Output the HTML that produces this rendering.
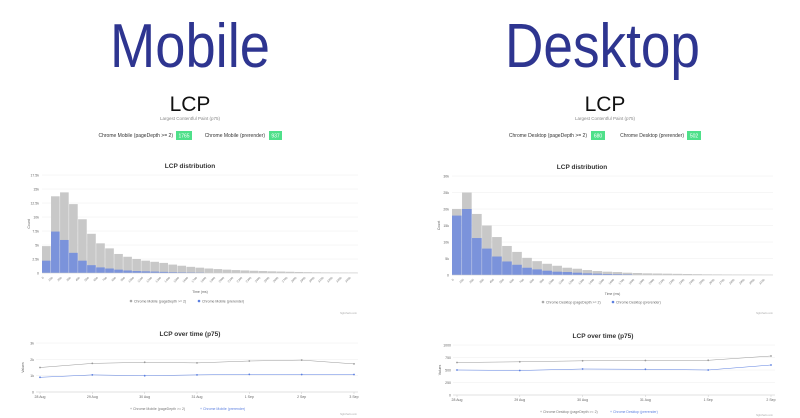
<!DOCTYPE html>
<html><head><meta charset="utf-8"><style>
html,body{margin:0;padding:0;background:#fff;width:800px;height:418px;overflow:hidden}
svg{display:block;font-family:"Liberation Sans",sans-serif}
</style></head><body>
<svg id="s" width="800" height="418" viewBox="0 0 800 418">
<text x="110" y="67" font-size="62" fill="#2e3590" textLength="160" lengthAdjust="spacingAndGlyphs">Mobile</text>
<text x="505" y="67" font-size="62" fill="#2e3590" textLength="195" lengthAdjust="spacingAndGlyphs">Desktop</text>

<text x="190" y="111" font-size="21" text-anchor="middle" fill="#111">LCP</text>
<text x="190" y="120" font-size="4.5" text-anchor="middle" fill="#888">Largest Contentful Paint (p75)</text>
<text x="173" y="137" font-size="5" text-anchor="end" fill="#333">Chrome Mobile (pageDepth &gt;= 2)</text>
<rect x="176" y="131" width="16" height="9" fill="#4fe08a"/><text x="184" y="137.5" font-size="5" text-anchor="middle" fill="#fff">1765</text>
<text x="265" y="137" font-size="5" text-anchor="end" fill="#333">Chrome Mobile (prerender)</text>
<rect x="269" y="131" width="13" height="9" fill="#4fe08a"/><text x="275.5" y="137.5" font-size="5" text-anchor="middle" fill="#fff">937</text>
<text x="190" y="168" font-size="6.5" font-weight="bold" text-anchor="middle" fill="#333">LCP distribution</text>

<text x="605" y="111" font-size="21" text-anchor="middle" fill="#111">LCP</text>
<text x="605" y="120" font-size="4.5" text-anchor="middle" fill="#888">Largest Contentful Paint (p75)</text>
<text x="587" y="137" font-size="5" text-anchor="end" fill="#333">Chrome Desktop (pageDepth &gt;= 2)</text>
<rect x="591" y="131" width="14" height="9" fill="#4fe08a"/><text x="598" y="137.5" font-size="5" text-anchor="middle" fill="#fff">680</text>
<text x="684" y="137" font-size="5" text-anchor="end" fill="#333">Chrome Desktop (prerender)</text>
<rect x="687" y="131" width="14" height="9" fill="#4fe08a"/><text x="694" y="137.5" font-size="5" text-anchor="middle" fill="#fff">502</text>
<text x="582" y="169" font-size="6.5" font-weight="bold" text-anchor="middle" fill="#333">LCP distribution</text>

<text x="190" y="336" font-size="6.5" font-weight="bold" text-anchor="middle" fill="#333">LCP over time (p75)</text>
<text x="603" y="338" font-size="6.5" font-weight="bold" text-anchor="middle" fill="#333">LCP over time (p75)</text>
<g id="g"></g>
</svg>
<script>
var g=document.getElementById('g'),h='';
function r(x,y,w,hh,f){h+='<rect x="'+x+'" y="'+y+'" width="'+w+'" height="'+hh+'" fill="'+f+'"/>';}
function t(x,y,s,txt,a,f,rot){h+='<text x="'+x+'" y="'+y+'" font-size="'+s+'" text-anchor="'+(a||'start')+'" fill="'+(f||'#666')+'"'+(rot?' transform="rotate('+rot+' '+x+' '+y+')"':'')+'>'+txt+'</text>';}
function ln(x1,y1,x2,y2,c,w){h+='<line x1="'+x1+'" y1="'+y1+'" x2="'+x2+'" y2="'+y2+'" stroke="'+c+'" stroke-width="'+(w||0.5)+'"/>';}
function hist(x0,x1,yt,yb,max,ticks,gray,blue,n,lab){
 for(var i=0;i<=ticks.length-1;i++){var y=yb-(yb-yt)*i/(ticks.length-1);ln(x0,y,x1,y,'#eee');t(x0-3,y+1.5,3.5,ticks[i],'end','#666');}
 var bw=(x1-x0)/n;
 for(i=0;i<n;i++){var gv=gray[i]||gray[gray.length-1]*Math.pow(0.85,i-gray.length+1),bv=blue[i]||0;
  var gh=(yb-yt)*gv/max,bh=(yb-yt)*bv/max;
  r((x0+i*bw).toFixed(2),(yb-gh).toFixed(2),(bw-0.4).toFixed(2),gh.toFixed(2),'#c8c8c8');
  if(bh>0)r((x0+i*bw).toFixed(2),(yb-bh).toFixed(2),(bw-0.4).toFixed(2),bh.toFixed(2),'#7b93db');
  if(i%1==0)t(x0+i*bw+2,yb+5,3,lab*i,'end','#777',-45);}
 ln(x0,yb,x1,yb,'#ccc');
 t(x0-12,(yt+yb)/2,3.5,'Count','middle','#666',-90);
 t((x0+x1)/2,yb+20,3.5,'Time (ms)','middle','#666');
}
hist(42,358,175,273,17.5,['0','2.5k','5k','7.5k','10k','12.5k','15k','17.5k'],
 [4.8,13.7,14.4,12.3,9.6,7.0,5.3,4.4,3.4,2.9,2.5,2.2,2.0,1.8,1.5,1.3,1.1,0.95,0.8,0.7,0.6,0.52,0.46,0.4,0.35,0.3,0.26,0.22,0.18,0.15,0.12,0.1,0.08,0.07,0.06],
 [2.2,7.4,5.9,3.6,2.2,1.4,1.0,0.8,0.6,0.45,0.35,0.3,0.25,0.2,0.15,0.12,0.1,0.08],35,100);
hist(452,773,176,275,30,['0','5k','10k','15k','20k','25k','30k'],
 [20,25,18.5,15,11.5,8.8,7,5.2,4.2,3.4,2.8,2.2,1.9,1.5,1.2,1.0,0.9,0.7,0.6,0.5,0.45,0.4,0.35,0.3,0.25,0.2,0.18,0.15,0.12,0.1,0.08,0.06],
 [18,20,11.2,8,5.6,4.1,3.1,2.2,1.7,1.3,1.0,0.9,0.7,0.5,0.4,0.3,0.25,0.2],32,100);
// legends
h+='<circle cx="131" cy="301" r="1.3" fill="#aaa"/>';t(134,302.5,3.5,'Chrome Mobile (pageDepth &gt;= 2)');
h+='<circle cx="199" cy="301" r="1.3" fill="#5b7fe0"/>';t(202,302.5,3.5,'Chrome Mobile (prerender)');
h+='<circle cx="543" cy="302" r="1.3" fill="#aaa"/>';t(546,303.5,3.5,'Chrome Desktop (pageDepth &gt;= 2)');
h+='<circle cx="613" cy="302" r="1.3" fill="#5b7fe0"/>';t(616,303.5,3.5,'Chrome Desktop (prerender)');
function lc(x0,x1,yt,yb,max,ticks,labs,gv,bv,lg1,lg2,lx){
 for(var i=0;i<ticks.length;i++){var y=yb-(yb-yt)*i/(ticks.length-1);ln(x0-4,y,x1+4,y,'#eee');t(x0-6,y+1.5,3.5,ticks[i],'end','#666');}
 ln(x0-4,yb,x1+4,yb,'#ccc');
 var n=labs.length,st=(x1-x0)/(n-1);
 function path(v,c){var d='';for(var i=0;i<n;i++){var x=x0+i*st,y=yb-(yb-yt)*v[i]/max;d+=(i?'L':'M')+x.toFixed(1)+' '+y.toFixed(1);h+='<circle cx="'+x.toFixed(1)+'" cy="'+y.toFixed(1)+'" r="0.9" fill="'+c+'"/>';}h+='<path d="'+d+'" fill="none" stroke="'+c+'" stroke-width="0.5"/>';}
 path(gv,'#999');path(bv,'#5b7fe0');
 for(i=0;i<n;i++){var x=x0+i*st;ln(x,yb,x,yb+2,'#ccc');t(x,yb+6,3.5,labs[i],'middle','#666');}
 t(x0-16,(yt+yb)/2,3.5,'Values','middle','#666',-90);
 t(lx,yb+18,3.5,'+ '+lg1,'start','#777');t(lx+70,yb+18,3.5,'+ '+lg2,'start','#5b7fe0');
}
lc(40,354,343,392,3,['0','1k','2k','3k'],['28 Aug','29 Aug','30 Aug','31 Aug','1 Sep','2 Sep','3 Sep'],
 [1.5,1.75,1.82,1.78,1.9,1.95,1.72],[0.9,1.05,1.0,1.05,1.08,1.07,1.07],'Chrome Mobile (pageDepth &gt;= 2)','Chrome Mobile (prerender)',130);
lc(457,771,345,395,1000,['0','250','500','750','1000'],['28 Aug','29 Aug','30 Aug','31 Aug','1 Sep','2 Sep'],
 [650,665,685,690,695,780],[500,490,520,515,500,600],'Chrome Desktop (pageDepth &gt;= 2)','Chrome Desktop (prerender)',540);
t(357,314,2.5,'highcharts.com','end','#aaa');t(773,314,2.5,'highcharts.com','end','#aaa');
t(357,415,2.5,'highcharts.com','end','#aaa');t(773,416,2.5,'highcharts.com','end','#aaa');
g.innerHTML=h;
</script>
</body></html>
